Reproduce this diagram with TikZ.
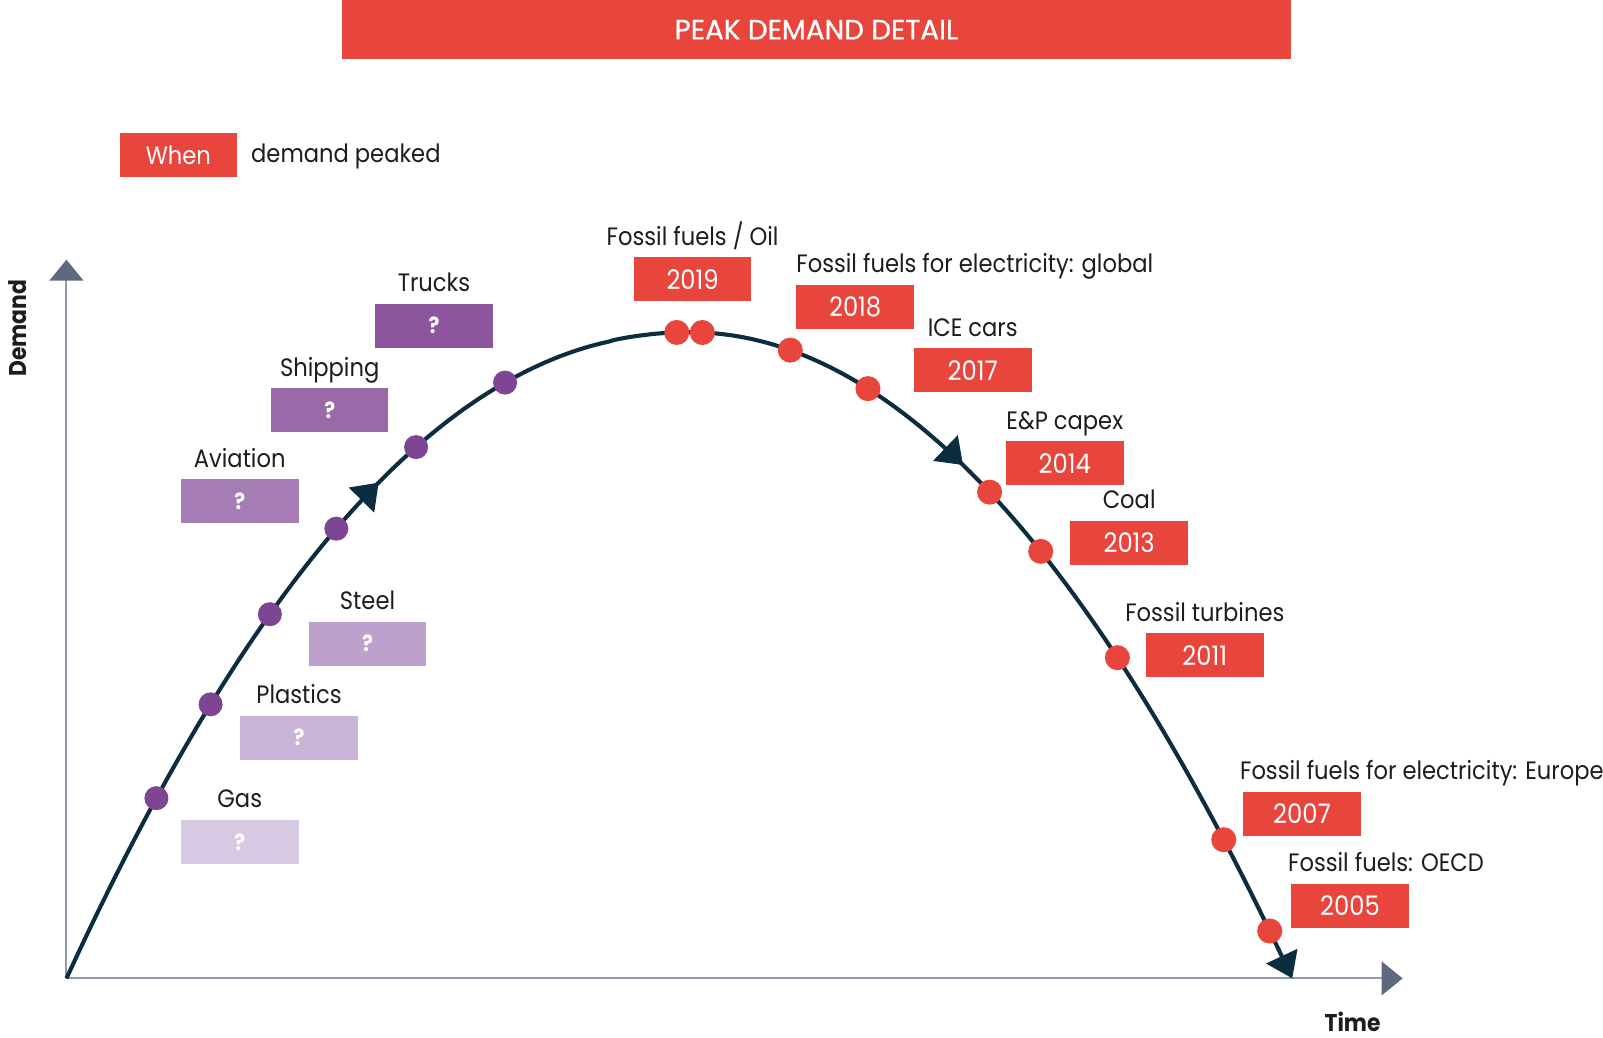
\documentclass[tikz,border=0pt]{standalone}
\usepackage{fontspec}
\setmainfont{Poppins}[FakeStretch=0.9]
\newfontfamily\titelfont{Poppins}[FakeBold=0.8]
\usepackage{tikz}
\usetikzlibrary{arrows.meta}
\usetikzlibrary{decorations.markings}
\usetikzlibrary{positioning}

\definecolor{rot}{HTML}{E8453C}
\definecolor{nachtblau}{HTML}{0C2D3F}
\definecolor{lila}{HTML}{7E4594}
\definecolor{achse}{HTML}{8E9AAD}
\definecolor{achsenpfeil}{HTML}{5D6A7E}
\definecolor{schrift}{HTML}{1D1D1B}
\definecolor{lilaA}{HTML}{8C559E}
\definecolor{lilaB}{HTML}{9B69A8}
\definecolor{lilaC}{HTML}{A57DB4}
\definecolor{lilaD}{HTML}{BBA1CC}
\definecolor{lilaE}{HTML}{C9B3D7}
\definecolor{lilaF}{HTML}{D7C9E3}

\begin{document}
\begin{tikzpicture}[x=0.02cm,y=-0.02cm,
    declare function={lhs(\t)=325+632*((675-\t)/610)^2.1; rhs(\t)=325+632*((\t-675)/589)^2;},
    yearbox/.style={fill=rot,text=white,minimum width=2.3cm,minimum height=0.86cm,inner sep=0pt,font=\fontsize{15}{18}\selectfont},
    qbox/.style={fill=#1,text=white,minimum width=2.3cm,minimum height=0.86cm,inner sep=0pt,font=\bfseries\fontsize{12.5}{14}\selectfont},
    lbl/.style={anchor=base,text=schrift,inner sep=0pt,font=\fontsize{14}{17}\selectfont},
    axlbl/.style={text=schrift,inner sep=0pt,font=\bfseries\fontsize{13.5}{16}\selectfont},
    pdot/.style={circle,fill=lila,minimum size=0.47cm,inner sep=0pt},
    rdot/.style={circle,fill=rot,minimum size=0.49cm,inner sep=0pt},
    axis/.style={draw=achse,line width=0.04cm,-{Triangle[length=0.41cm,width=0.66cm,color=achsenpfeil]}},
    curve/.style={draw=nachtblau,line width=0.08cm,-{Triangle[length=0.48cm,width=0.66cm]}}]
    \useasboundingbox (0,0) rectangle (1568,1015);

    % Titel und Legende
    \node[fill=rot,text=white,minimum width=18.58cm,minimum height=1.16cm,inner sep=0pt,
          font=\titelfont\fontsize{15.5}{18}\selectfont] (title) at (798.5,29) {PEAK DEMAND DETAIL};
    \node[yearbox,font=\fontsize{14}{17}\selectfont] (when) at (174.5,151.5) {When};
    \node[lbl,right=0.26cm of when,yshift=-0.04cm] (peaked) {demand peaked};

    % Achsen zeichnen
    \coordinate (o) at (65,957);
    \coordinate (ytip) at (65,254);
    \coordinate (xtip) at (1372,957);
    \draw[axis] (o) -- (ytip);
    \draw[axis] (o) -- (xtip);
    \node[axlbl,rotate=90] (ylab) at (17,321) {Demand};
    \node[axlbl] (xlab) at (1323,1000) {Time};

    % Nachfragekurve
    \draw[curve,postaction={decorate},decoration={markings,
          mark=at position 0.315 with {\arrow{Triangle[length=0.48cm,width=0.68cm]}},
          mark=at position 0.672 with {\arrow{Triangle[length=0.48cm,width=0.68cm]}}}]
        plot[domain=65:675,samples=100] (\x,{lhs(\x)})
        -- plot[domain=675:1264,samples=100] (\x,{rhs(\x)});

    %Punkte einzeichnen:
    \node[pdot] (gas) at (153,{lhs(153)}) {};
    \node[pdot] (plastics) at (206,{lhs(206)}) {};
    \node[pdot] (steel) at (264,{lhs(264)}) {};
    \node[pdot] (aviation) at (329,{lhs(329)}) {};
    \node[pdot] (shipping) at (407,{lhs(407)}) {};
    \node[pdot] (trucks) at (494,{lhs(494)}) {};

    \node[rdot] (oil) at (662,{lhs(662)}) {};
    \node[rdot] (fossil) at (687,{rhs(687)}) {};
    \node[rdot] (elglobal) at (773,{rhs(773)}) {};
    \node[rdot] (ice) at (849,{rhs(849)}) {};
    \node[rdot] (capex) at (968,{rhs(968)}) {};
    \node[rdot] (coal) at (1018,{rhs(1018)}) {};
    \node[rdot] (turbines) at (1093,{rhs(1093)}) {};
    \node[rdot] (eleurope) at (1197,{rhs(1197)}) {};
    \node[rdot] (oecd) at (1242,{rhs(1242)}) {};

    % offene Faelle
    \node[qbox=lilaA] (qtrucks) at (424.5,318.5) {?};
    \node[qbox=lilaB] (qshipping) at (322.5,401.5) {?};
    \node[qbox=lilaC] (qaviation) at (234.5,490.5) {?};
    \node[qbox=lilaD] (qsteel) at (359.5,629.5) {?};
    \node[qbox=lilaE] (qplastics) at (292.5,721.5) {?};
    \node[qbox=lilaF] (qgas) at (234.5,823.5) {?};
    \node[lbl] at ([yshift=0.23cm]qtrucks.north) {Trucks};
    \node[lbl] at ([yshift=0.23cm]qshipping.north) {Shipping};
    \node[lbl] at ([yshift=0.23cm]qaviation.north) {Aviation};
    \node[lbl] at ([yshift=0.23cm]qsteel.north) {Steel};
    \node[lbl] at ([yshift=0.23cm]qplastics.north) {Plastics};
    \node[lbl] at ([yshift=0.23cm]qgas.north) {Gas};

    % Jahre der Spitzen
    \node[yearbox] (y2019) at (677.5,273) {2019};
    \node[yearbox] (y2018) at (836.5,300) {2018};
    \node[yearbox] (y2017) at (951.5,362) {2017};
    \node[yearbox] (y2014) at (1041.5,453) {2014};
    \node[yearbox] (y2013) at (1104.5,531) {2013};
    \node[yearbox] (y2011) at (1178.5,641) {2011};
    \node[yearbox] (y2007) at (1273.5,796) {2007};
    \node[yearbox] (y2005) at (1320.5,886) {2005};
    \node[lbl] at ([yshift=0.23cm]y2019.north) {Fossil fuels / Oil};
    \node[lbl,anchor=base west] at ([yshift=0.23cm]y2018.north west) {Fossil fuels for electricity: global};
    \node[lbl] at ([yshift=0.23cm]y2017.north) {ICE cars};
    \node[lbl] at ([yshift=0.23cm]y2014.north) {E\&P capex};
    \node[lbl] at ([yshift=0.23cm]y2013.north) {Coal};
    \node[lbl] at ([yshift=0.23cm]y2011.north) {Fossil turbines};
    \node[lbl,anchor=base west] at ([xshift=-0.06cm,yshift=0.23cm]y2007.north west) {Fossil fuels for electricity: Europe};
    \node[lbl,anchor=base west] at ([xshift=-0.06cm,yshift=0.23cm]y2005.north west) {Fossil fuels: OECD};
\end{tikzpicture}
\end{document}
